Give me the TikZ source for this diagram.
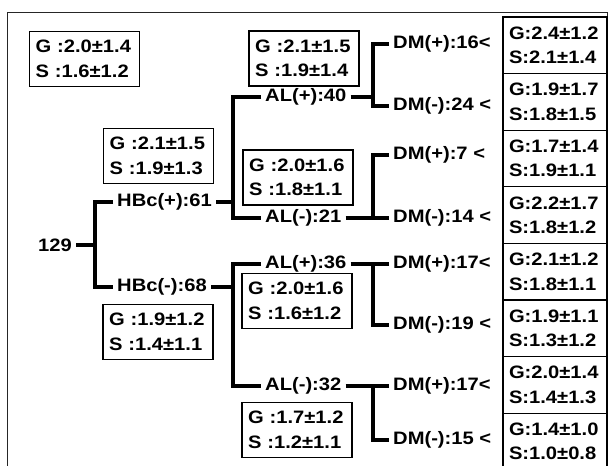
\documentclass[tikz,border=0pt]{standalone}
\usepackage{fontspec}
\setmainfont[FakeStretch=1.12]{Liberation Sans}
\usepackage{tikz}
\newcommand{\treefont}{\fontsize{18}{24.5}\selectfont\bfseries}

\begin{document}
\begin{tikzpicture}[x=1pt, y=-1pt,
    lbl/.style={font=\treefont, inner xsep=4pt, inner ysep=1pt},
    stat/.style={draw, line width=1.2pt, font=\treefont, align=left,
                 minimum width=110pt, minimum height=55pt, text width=98pt,
                 inner sep=0pt},
    cell/.style={stat, minimum width=104pt, minimum height=56.6pt, text width=92pt},
    brk/.style={line width=3.2pt, line join=miter},
    frame/.style={line width=1pt, black!85}
  ]
  \useasboundingbox (0,0) rectangle (611,466);
  \draw[frame] (7,470) -- (7,12) -- (607,12) -- (607,470);

  % Total
  \node[stat] (s0) at (84.5,59) {G :2.0±1.4\\S :1.6±1.2};
  \node[lbl, anchor=east] (root) at (76,245) {129};

  % HBc level
  \node[lbl, anchor=west] (hbcp) at (113,202) {HBc(+):61};
  \node[lbl, anchor=west] (hbcm) at (113,287) {HBc(-):68};
  \node[stat] (sHp) at (158.5,156) {G :2.1±1.5\\S :1.9±1.3};
  \node[stat] (sHm) at (158,332) {G :1.9±1.2\\S :1.4±1.1};

  % AL level
  \node[lbl, anchor=west] (alp1) at (261,97) {AL(+):40};
  \node[lbl, anchor=west] (alm1) at (261,218) {AL(-):21};
  \node[lbl, anchor=west] (alp2) at (261,264) {AL(+):36};
  \node[lbl, anchor=west] (alm2) at (261,386) {AL(-):32};
  \node[stat] (sAp1) at (304,58.5) {G :2.1±1.5\\S :1.9±1.4};
  \node[stat] (sAm1) at (298,177.5) {G :2.0±1.6\\S :1.8±1.1};
  \node[stat] (sAp2) at (297,301) {G :2.0±1.6\\S :1.6±1.2};
  \node[stat] (sAm2) at (297,430) {G :1.7±1.2\\S :1.2±1.1};

  % DM level
  \node[lbl, anchor=west] (dm1) at (389,44) {DM(+):16<};
  \node[lbl, anchor=west] (dm2) at (389,106) {DM(-):24 <};
  \node[lbl, anchor=west] (dm3) at (389,155) {DM(+):7 <};
  \node[lbl, anchor=west] (dm4) at (389,218) {DM(-):14 <};
  \node[lbl, anchor=west] (dm5) at (389,264) {DM(+):17<};
  \node[lbl, anchor=west] (dm6) at (389,325) {DM(-):19 <};
  \node[lbl, anchor=west] (dm7) at (389,386) {DM(+):17<};
  \node[lbl, anchor=west] (dm8) at (389,440) {DM(-):15 <};

  % right column
  \node[cell] (c1) at (555,45.3) {G:2.4±1.2\\S:2.1±1.4};
  \node[cell] (c2) at (555,101.9) {G:1.9±1.7\\S:1.8±1.5};
  \node[cell] (c3) at (555,158.5) {G:1.7±1.4\\S:1.9±1.1};
  \node[cell] (c4) at (555,215.1) {G:2.2±1.7\\S:1.8±1.2};
  \node[cell] (c5) at (555,271.7) {G:2.1±1.2\\S:1.8±1.1};
  \node[cell] (c6) at (555,328.3) {G:1.9±1.1\\S:1.3±1.2};
  \node[cell] (c7) at (555,384.9) {G:2.0±1.4\\S:1.4±1.3};
  \node[cell] (c8) at (555,441.5) {G:1.4±1.0\\S:1.0±0.8};

  % Brackets
  \coordinate (j1) at (95,245);
  \coordinate (j2) at (233,202);
  \coordinate (j3) at (233,287);
  \coordinate (j4) at (373,97);
  \coordinate (j5) at (373,218);
  \coordinate (j6) at (373,264);
  \coordinate (j7) at (373,386);

  \draw[brk] (root.east) -- (j1);
  \draw[brk] (hbcp.west) -| (j1) |- (hbcm.west);
  \draw[brk] (hbcp.east) -- (j2);
  \draw[brk] (alp1.west) -| (j2) |- (alm1.west);
  \draw[brk] (hbcm.east) -- (j3);
  \draw[brk] (alp2.west) -| (j3) |- (alm2.west);
  \draw[brk] (alp1.east) -- (j4);
  \draw[brk] (dm1.west) -| (j4) |- (dm2.west);
  \draw[brk] (alm1.east) -- (j5);
  \draw[brk] (dm3.west) -| (j5) |- (dm4.west);
  \draw[brk] (alp2.east) -- (j6);
  \draw[brk] (dm5.west) -| (j6) |- (dm6.west);
  \draw[brk] (alm2.east) -- (j7);
  \draw[brk] (dm7.west) -| (j7) |- (dm8.west);
\end{tikzpicture}
\end{document}
